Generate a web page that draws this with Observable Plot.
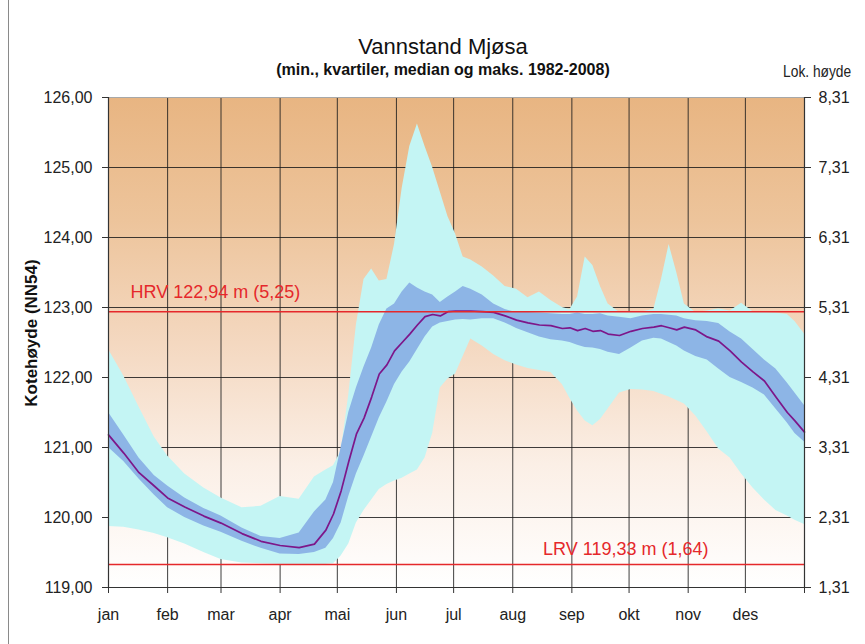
<!DOCTYPE html>
<html>
<head>
<meta charset="utf-8">
<script src="https://cdn.jsdelivr.net/npm/d3@7"></script>
<script src="https://cdn.jsdelivr.net/npm/@observablehq/plot@0.6"></script>
<style>
  body { margin: 0; background: #fff; font-family: "Liberation Sans", Arial, sans-serif; }
  #wrap { position: relative; width: 865px; height: 644px; overflow: hidden; background: #fff; }
  .t { position: absolute; white-space: nowrap; color: #111; }
  #title { left: 443px; top: 35px; font-size: 22px; line-height: 24px; transform: translateX(-50%); }
  #subtitle { left: 443px; top: 61px; font-size: 16px; line-height: 18px; font-weight: bold; transform: translateX(-50%); }
  #lok { right: 14px; top: 63px; font-size: 16px; line-height: 18px; color: #222; transform: scaleX(0.86); transform-origin: right center; }
  #ylab { left: 32px; top: 333px; font-size: 17px; font-weight: bold; line-height: 20px; transform: translate(-50%, -50%) rotate(-90deg); }
  #border { position: absolute; left: 8px; top: 0; width: 0; height: 644px; border-left: 1px solid #8a8a8a; }
  #chart { position: absolute; left: 0; top: 0; }
</style>
</head>
<body>
<div id="wrap">
  <div id="border"></div>
  <div id="chart"></div>
  <div class="t" id="title">Vannstand Mjøsa</div>
  <div class="t" id="subtitle">(min., kvartiler, median og maks. 1982-2008)</div>
  <div class="t" id="lok">Lok. høyde</div>
  <div class="t" id="ylab">Kotehøyde (NN54)</div>
</div>
<script>
// ---- data (day of year, water level m) ----
const days = [0,8,16,24,31,40,50,59,70,80,90,100,108,114,118,122,126,130,134,138,142,146,150,154,158,162,166,170,174,178,182,186,190,196,202,208,214,220,226,232,238,242,246,250,254,258,262,268,274,280,286,290,294,298,302,308,314,320,326,332,338,344,350,356,360,365];

const maxLevel = [122.40,122.02,121.58,121.15,120.88,120.62,120.42,120.28,120.14,120.16,120.30,120.26,120.58,120.68,120.74,120.95,121.75,122.75,123.40,123.55,123.38,123.40,123.90,124.70,125.30,125.62,125.30,125.00,124.65,124.30,124.05,123.72,123.68,123.58,123.45,123.30,123.26,123.14,123.22,123.10,123.00,122.97,123.15,123.72,123.60,123.30,123.05,122.93,122.93,122.94,122.97,123.40,123.90,123.50,123.05,122.93,122.95,122.98,122.95,123.06,122.94,122.93,122.92,122.90,122.80,122.62];

const q3Level = [121.50,121.18,120.85,120.60,120.45,120.28,120.13,120.02,119.85,119.73,119.70,119.78,120.08,120.25,120.50,121.00,121.50,121.85,122.15,122.42,122.75,122.98,123.05,123.22,123.35,123.28,123.22,123.18,123.07,123.15,123.22,123.30,123.26,123.18,123.05,122.97,122.93,122.93,122.92,122.91,122.90,122.90,122.92,122.90,122.90,122.91,122.88,122.86,122.84,122.88,122.90,122.90,122.89,122.88,122.84,122.81,122.80,122.77,122.65,122.55,122.40,122.25,122.12,121.92,121.78,121.60];

const medianLevel = [121.18,120.92,120.64,120.45,120.28,120.15,120.02,119.92,119.77,119.66,119.60,119.57,119.62,119.82,120.05,120.38,120.80,121.19,121.42,121.72,122.05,122.18,122.38,122.50,122.62,122.75,122.87,122.90,122.88,122.94,122.95,122.95,122.95,122.94,122.93,122.88,122.82,122.78,122.75,122.74,122.70,122.71,122.67,122.70,122.66,122.67,122.62,122.60,122.66,122.70,122.72,122.74,122.71,122.68,122.72,122.68,122.58,122.52,122.38,122.22,122.08,121.95,121.72,121.50,121.38,121.22];

const q1Level = [121.00,120.80,120.55,120.32,120.14,120.00,119.88,119.79,119.66,119.56,119.48,119.47,119.50,119.56,119.70,119.92,120.30,120.62,120.88,121.15,121.42,121.65,121.90,122.08,122.22,122.40,122.58,122.72,122.78,122.80,122.82,122.83,122.82,122.84,122.84,122.78,122.70,122.64,122.58,122.54,122.52,122.50,122.46,122.43,122.42,122.40,122.36,122.33,122.42,122.52,122.56,122.55,122.50,122.45,122.38,122.30,122.25,122.12,122.00,121.93,121.85,121.75,121.55,121.35,121.20,121.08];

const minLevel = [119.87,119.86,119.82,119.77,119.71,119.62,119.50,119.40,119.35,119.34,119.33,119.33,119.33,119.33,119.34,119.45,119.62,119.92,120.10,120.25,120.40,120.47,120.52,120.56,120.62,120.68,120.85,121.20,121.85,121.98,122.05,122.30,122.55,122.45,122.33,122.24,122.18,122.13,122.10,122.07,121.90,121.70,121.52,121.38,121.31,121.40,121.55,121.78,121.83,121.82,121.80,121.76,121.72,121.67,121.62,121.45,121.22,120.98,120.85,120.62,120.42,120.25,120.10,120.02,119.96,119.90];

const monthStarts = [0,31,59,90,120,151,181,212,243,273,304,334,365];
const monthLabels = ["jan","feb","mar","apr","mai","jun","jul","aug","sep","okt","nov","des"];
const yTicks = [119,120,121,122,123,124,125,126];
const localZero = 117.69;           // right axis: local height = level - 117.69
const hrv = 122.94, lrv = 119.33;
const hrvText = "HRV 122,94 m (5,25)";
const lrvText = "LRV 119,33 m (1,64)";

// ---- table for the library ----
const rows = days.map((d, i) => ({
  day: d, min: minLevel[i], q1: q1Level[i], median: medianLevel[i], q3: q3Level[i], max: maxLevel[i]
}));
const labelByDay = new Map(monthStarts.slice(0, 12).map((d, i) => [d, monthLabels[i]]));
const comma = v => v.toFixed(2).replace(".", ",");

const chart = Plot.plot({
  width: 865,
  height: 644,
  marginLeft: 108,
  marginRight: 61,
  marginTop: 97,
  marginBottom: 57,
  x: { domain: [0, 365] },
  y: { domain: [119, 126] },
  style: { fontFamily: "'Liberation Sans', Arial, sans-serif", fontSize: "16px", color: "#222", background: "transparent", overflow: "visible" },
  marks: [
    Plot.frame({ fill: "url(#bgGrad)", stroke: "none" }),
    Plot.gridY({ ticks: yTicks, stroke: "#1c1c1c", strokeOpacity: 0.85, strokeWidth: 1 }),
    Plot.gridX({ ticks: monthStarts, stroke: "#1c1c1c", strokeOpacity: 0.85, strokeWidth: 1 }),
    Plot.areaY(rows, { x: "day", y1: "min", y2: "max", fill: "#C4F5F4" }),
    Plot.areaY(rows, { x: "day", y1: "q1", y2: "q3", fill: "#8DB5E6" }),
    Plot.lineY(rows, { x: "day", y: "median", stroke: "#7D1689", strokeWidth: 1.7 }),
    Plot.ruleY([hrv, lrv], { stroke: "#E5282B", strokeWidth: 1.5 }),
    Plot.text([hrvText], { y: hrv, frameAnchor: "left", textAnchor: "start", dx: 22, dy: -19, fill: "#E5282B", fontSize: 18 }),
    Plot.text([lrvText], { y: lrv, frameAnchor: "right", textAnchor: "end", dx: -96, dy: -15, fill: "#E5282B", fontSize: 18 }),
    Plot.ruleY([126], { stroke: "#a8a8a8", strokeWidth: 1.2 }),
    Plot.ruleY([119], { stroke: "#333", strokeWidth: 1.2 }),
    Plot.ruleX([0, 365], { stroke: "#333", strokeWidth: 1.2 }),
    Plot.axisY({ anchor: "left", ticks: yTicks, tickFormat: comma, tickSize: 6, tickPadding: 10, label: null, stroke: "#333", fill: "#222" }),
    Plot.axisY({ anchor: "right", ticks: yTicks, tickFormat: d => comma(d - localZero), tickSize: 6, tickPadding: 8, label: null, stroke: "#333", fill: "#222" }),
    Plot.axisX({ ticks: monthStarts, tickFormat: d => labelByDay.get(d) ?? "", tickSize: 6, tickPadding: 15, label: null, stroke: "#333", fill: "#222" })
  ]
});

d3.select(chart).insert("defs", ":first-child").html(`
  <linearGradient id="bgGrad" x1="0" y1="0" x2="0" y2="1">
    <stop offset="0%" stop-color="#E8B582"/>
    <stop offset="25%" stop-color="#EDC49B"/>
    <stop offset="50%" stop-color="#F4D8C0"/>
    <stop offset="75%" stop-color="#FBEFE6"/>
    <stop offset="100%" stop-color="#FFFFFF"/>
  </linearGradient>`);

document.getElementById("chart").appendChild(chart);
</script>
</body>
</html>
